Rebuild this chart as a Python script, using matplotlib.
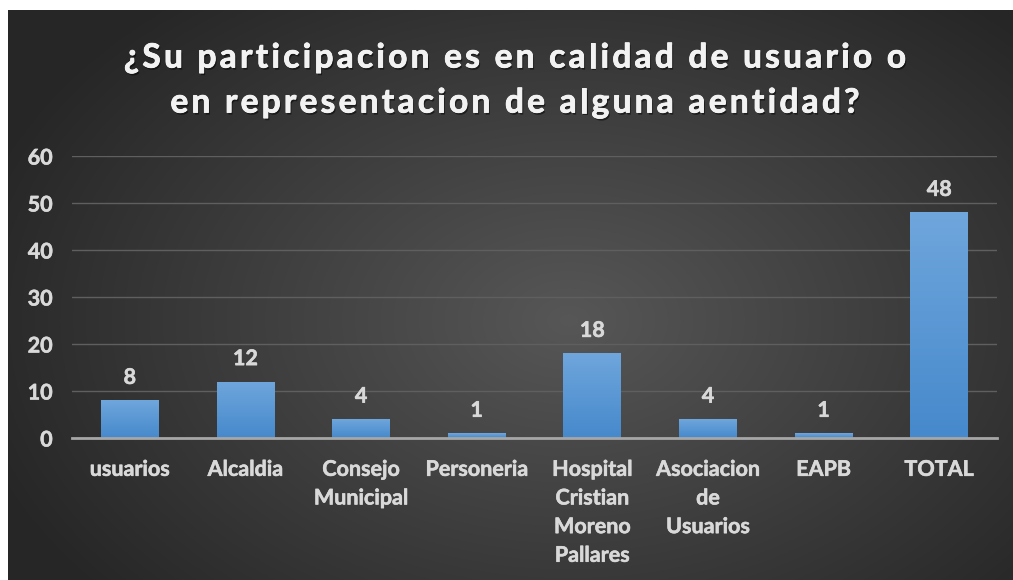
import numpy as np
import matplotlib
matplotlib.use("Agg")
from matplotlib import pyplot as plt
import matplotlib.patheffects as pe

# datos
categorias = ["usuarios", "Alcaldia", "Consejo\nMunicipal", "Personeria",
              "Hospital\nCristian\nMoreno\nPallares", "Asociacion\nde\nUsuarios",
              "EAPB", "TOTAL"]
valores = [8, 12, 4, 1, 18, 4, 1, 48]
yticks = [0, 10, 20, 30, 40, 50, 60]
titulo = ["¿Su participacion es en calidad de usuario o",
          "en representacion de alguna aentidad?"]

plt.rcParams['font.family'] = ['Lato', 'DejaVu Sans']
W, H = 1013, 580
fig = plt.figure(figsize=(W / 100, H / 100), dpi=100)
fig.patch.set_facecolor("white")

# fondo con degradado radial
bg = fig.add_axes([8 / W, 0, 1 - 8 / W, 570 / H])
bg.set_axis_off()
yy, xx = np.mgrid[0:570, 0:1005]
d = np.sqrt(((xx - 560) / 620.0) ** 2 + ((yy - 310) / 420.0) ** 2)
d = np.clip(d, 0, 1)
c = 0.34 - 0.19 * d
img = np.dstack([c, c, c])
bg.imshow(img, aspect="auto", extent=[0, 1, 0, 1], origin="upper")

ax = fig.add_axes([72 / W, 142 / H, 925 / W, 282 / H])
ax.set_facecolor("none")
x = np.arange(len(categorias))
barras = ax.bar(x, valores, width=0.5, color="none", zorder=3)

grad = np.linspace(0, 1, 100).reshape(-1, 1)
cmap = matplotlib.colors.LinearSegmentedColormap.from_list("azul", ["#6fa6dc", "#4689cc"])
for b in barras:
    im = ax.imshow(grad, cmap=cmap, aspect="auto", origin="upper",
                   extent=[b.get_x(), b.get_x() + b.get_width(), 0, b.get_height()],
                   zorder=3)
    im.set_clip_path(b)

gris = "#d9d9d9"
grueso = [pe.withStroke(linewidth=0.4, foreground=gris)]

for xi, v in zip(x, valores):
    ax.annotate(str(v), (xi, v), xytext=(0, 9), textcoords="offset points",
                ha="center", va="bottom", fontsize=15.5, fontweight="bold", color=gris,
                path_effects=grueso)

ax.set_xlim(-0.5, len(categorias) - 0.5)
ax.set_ylim(0, 60)
ax.set_yticks(yticks)
ax.set_xticks(x)
ax.set_xticklabels(categorias, linespacing=1.45)
ax.tick_params(axis="both", length=0, labelsize=15.5, labelcolor=gris)
ax.tick_params(axis="x", pad=15)
ax.tick_params(axis="y", pad=14)
for lab in ax.get_xticklabels() + ax.get_yticklabels():
    lab.set_fontweight("bold")
    lab.set_path_effects(grueso)
for s in ["top", "right", "left"]:
    ax.spines[s].set_visible(False)
ax.spines["bottom"].set_color("#a6a6a6")
ax.spines["bottom"].set_linewidth(2)
ax.spines["bottom"].set_zorder(4)
ax.grid(axis="y", color="#5f5f5f", linewidth=1, zorder=0)
ax.set_axisbelow(True)

# titulo con espaciado entre letras
renderer = fig.canvas.get_renderer()
props = dict(fontsize=24, fontweight="bold", color="#f2f2f2")
sombra = [pe.withSimplePatchShadow(offset=(1, -1.5), shadow_rgbFace="black", alpha=0.5),
          pe.withStroke(linewidth=0.6, foreground="#f2f2f2")]


def ancho(s):
    t = fig.text(0, 0, s, **props)
    w = t.get_window_extent(renderer).width
    t.remove()
    return w


base = ancho("||")
for linea, yc in zip(titulo, [58, 103]):
    anchos = [ancho("|" + ch + "|") - base for ch in linea]
    esp = 3.3
    total = sum(anchos) + esp * (len(linea) - 1)
    xpos = 515 - total / 2
    for ch, w in zip(linea, anchos):
        if ch != " ":
            fig.text(xpos / W, 1 - yc / H, ch, ha="left", va="center",
                     path_effects=sombra, **props)
        xpos += w + esp

fig.savefig("out.png", dpi=100, facecolor=fig.get_facecolor())
